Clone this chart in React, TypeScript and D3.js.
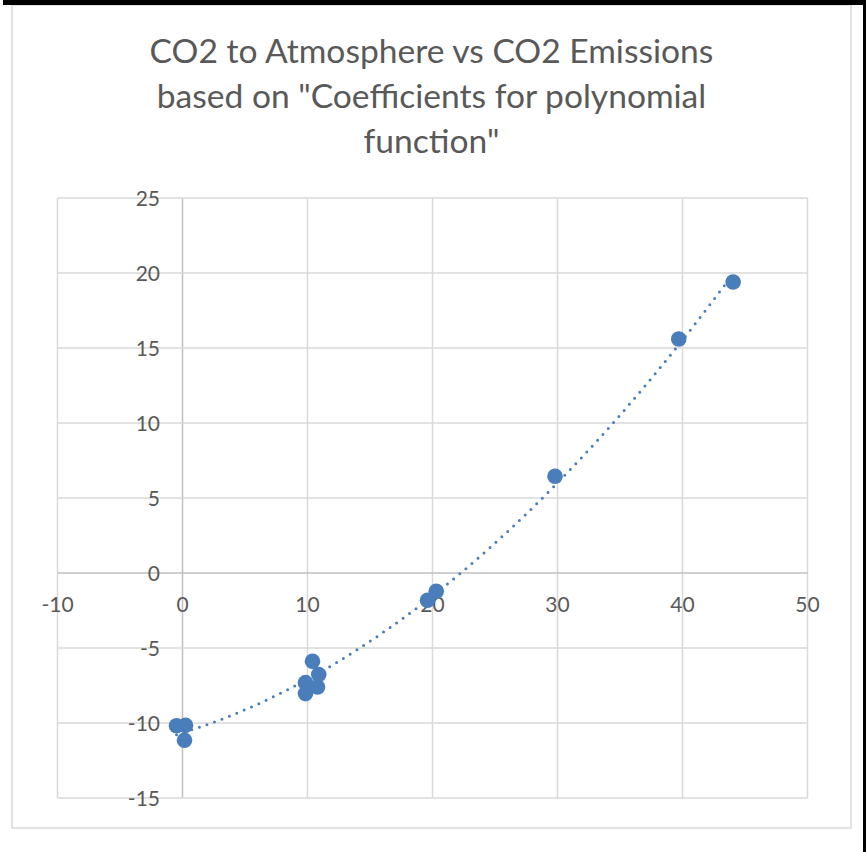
import React from "react";
import * as d3 from "d3";

const emissions = [-0.48, 0.24, 0.16, 10.4, 10.9, 9.84, 10.8, 9.84, 19.6, 20.3, 29.8, 39.7, 44.05];
const toAtmosphere = [-10.18, -10.15, -11.15, -5.89, -6.77, -7.31, -7.6, -8.04, -1.82, -1.22, 6.45, 15.6, 19.4];
const xTicks = [-10, 0, 10, 20, 30, 40, 50];
const yTicks = [-15, -10, -5, 0, 5, 10, 15, 20, 25];
const titleLines = [
  "CO2 to Atmosphere vs CO2 Emissions",
  "based on \"Coefficients for polynomial",
  "function\"",
];

function fitQuadratic(xs: number[], ys: number[]) {
  const S = [0, 0, 0, 0, 0];
  const T = [0, 0, 0];
  xs.forEach((x, i) => {
    for (let k = 0; k < 5; k++) S[k] += Math.pow(x, k);
    for (let k = 0; k < 3; k++) T[k] += ys[i] * Math.pow(x, k);
  });
  const A = [
    [S[0], S[1], S[2], T[0]],
    [S[1], S[2], S[3], T[1]],
    [S[2], S[3], S[4], T[2]],
  ];
  for (let i = 0; i < 3; i++) {
    for (let j = i + 1; j < 3; j++) {
      const f = A[j][i] / A[i][i];
      for (let k = i; k < 4; k++) A[j][k] -= f * A[i][k];
    }
  }
  const c = [0, 0, 0];
  for (let i = 2; i >= 0; i--) {
    let s = A[i][3];
    for (let k = i + 1; k < 3; k++) s -= A[i][k] * c[k];
    c[i] = s / A[i][i];
  }
  return c;
}

export default function App() {
  const W = 866, H = 852;
  const x = d3.scaleLinear().domain([-10, 50]).range([57.5, 807.5]);
  const y = d3.scaleLinear().domain([-15, 25]).range([798, 198]);
  const coef = fitQuadratic(emissions, toAtmosphere);
  const xmin = d3.min(emissions)!, xmax = d3.max(emissions)!;
  const trend = d3.range(0, 201).map((i) => {
    const xv = xmin + ((xmax - xmin) * i) / 200;
    return [xv, coef[0] + coef[1] * xv + coef[2] * xv * xv] as [number, number];
  });
  const line = d3.line<[number, number]>().x((d) => x(d[0])).y((d) => y(d[1]));
  const blue = "#4A7EBB";
  const grid = "#d9d9d9";
  const axisC = "#bfbfbf";
  const font = "Lato, 'Open Sans', sans-serif";
  const txt = "#595959";

  return (
    <svg width={W} height={H} style={{ position: "absolute", left: 0, top: 0, background: "#fff" }}>
      <rect x={0} y={0} width={W} height={H} fill="#fff" />
      <rect x={12} y={5} width={839} height={823} fill="#fff" stroke={grid} strokeWidth={1.5} />
      <rect x={3} y={0} width={W - 3} height={5} fill="#000" />
      <rect x={863} y={0} width={3} height={H} fill="#000" />
      {titleLines.map((t, i) => (
        <text key={i} x={431.5} y={63 + i * 45} textAnchor="middle" fontFamily={font} fontSize={33.6} fill={txt}>
          {t}
        </text>
      ))}
      {xTicks.map((t) => (
        <line key={"gx" + t} x1={x(t)} x2={x(t)} y1={y(25)} y2={y(-15)} stroke={t === 0 ? axisC : grid} strokeWidth={1.5} />
      ))}
      {yTicks.map((t) => (
        <line key={"gy" + t} x1={x(-10)} x2={x(50)} y1={y(t)} y2={y(t)} stroke={t === 0 ? axisC : grid} strokeWidth={1.5} />
      ))}
      {xTicks.map((t) => (
        <text key={"tx" + t} x={x(t)} y={y(0) + 39} textAnchor="middle" fontFamily={font} fontSize={21} fill={txt}>
          {t}
        </text>
      ))}
      {yTicks.map((t) => (
        <text key={"ty" + t} x={160} y={y(t) + 7.5} textAnchor="end" fontFamily={font} fontSize={21} fill={txt}>
          {t}
        </text>
      ))}
      <path d={line(trend) || ""} fill="none" stroke={blue} strokeWidth={3} strokeLinecap="round" strokeDasharray="0 8" />
      {emissions.map((e, i) => (
        <circle key={"p" + i} cx={x(e)} cy={y(toAtmosphere[i])} r={7.8} fill={blue} />
      ))}
    </svg>
  );
}
